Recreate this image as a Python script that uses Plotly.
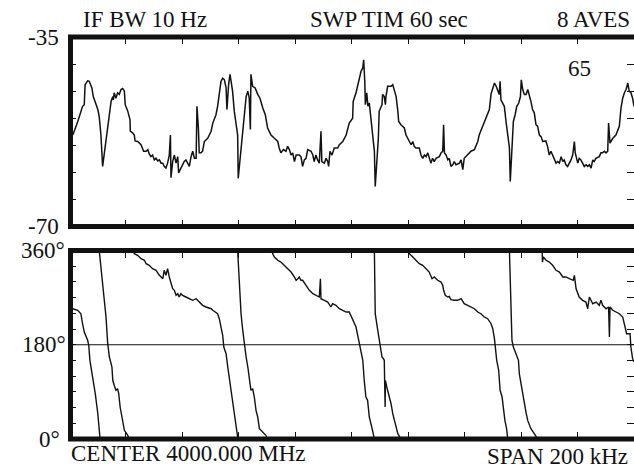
import plotly.graph_objects as go

# ---------------- data ----------------
# magnitude trace (frequency offset from centre in kHz, level in dB)
mag_khz = [-100.0,
    -98.5, -96.9, -95.2, -94.6, -94.3, -93.4, -92.8, -92.6, -91.9, -91.4,
    -90.7, -89.8, -89.3, -88.7, -88.1, -87.1, -86.3, -85.7, -85.1, -84.5,
    -84.3, -84.0, -83.4, -82.8, -82.2, -81.6, -81.0, -80.4, -80.1, -79.2,
    -78.4, -78.3, -77.5, -76.9, -76.6, -75.7, -74.5, -73.6, -72.7, -72.1,
    -71.6, -71.0, -70.4, -69.8, -69.2, -68.6, -68.0, -67.4, -66.8, -66.3,
    -65.7, -65.1, -64.5, -64.1, -63.9, -63.3, -62.7, -62.1, -61.5, -61.2,
    -60.4, -59.8, -59.2, -58.6, -58.0, -57.4, -56.8, -56.2, -55.6, -55.0,
    -54.7, -54.2, -53.9, -53.3, -52.7, -52.1, -50.9, -49.7, -49.1, -48.0,
    -47.4, -46.8, -46.2, -45.6, -45.0, -44.4, -44.1, -43.5, -43.0, -42.7,
    -42.1, -41.5, -40.9, -40.3, -40.1, -39.5, -38.8, -37.9, -37.3, -36.7,
    -36.2, -35.8, -35.6, -35.0, -34.1, -33.2, -32.4, -31.4, -30.5, -29.7,
    -28.5, -27.3, -26.1, -25.6, -25.0, -24.1, -23.2, -22.6, -22.0, -21.4,
    -20.8, -20.2, -19.6, -18.5, -17.9, -17.3, -16.7, -16.1, -15.5, -14.3,
    -13.7, -13.2, -12.6, -12.0, -11.4, -10.8, -10.5, -9.6, -9.0, -8.4,
    -8.1, -7.6, -6.9, -6.1, -4.9, -4.3, -3.1, -1.9, -0.8, 0.4,
    0.6, 1.6, 2.6, 3.4, 4.0, 4.3, 4.7, 4.9, 5.4, 5.8,
    6.3, 6.9, 7.5, 8.1, 8.4, 9.0, 9.5, 9.8, 10.8, 11.0,
    11.6, 12.0, 12.2, 12.8, 14.0, 14.6, 15.2, 15.8, 16.4, 16.7,
    17.5, 18.7, 19.3, 20.5, 21.1, 21.7, 22.2, 22.8, 24.0, 24.6,
    25.2, 25.8, 26.4, 27.0, 27.5, 28.1, 28.7, 29.3, 29.9, 31.1,
    31.7, 32.3, 32.6, 32.9, 33.5, 34.1, 34.6, 35.2, 35.8, 36.4,
    37.0, 38.2, 38.8, 39.4, 39.9, 41.1, 42.3, 43.5, 44.7, 45.2,
    46.4, 47.6, 48.8, 49.4, 50.0, 50.6, 51.2, 51.8, 52.3, 52.6,
    52.9, 53.5, 54.1, 54.7, 55.3, 55.9, 56.2, 56.8, 57.3, 57.9,
    58.5, 59.2, 59.8, 60.1, 60.6, 61.2, 61.8, 62.4, 62.9, 63.5,
    64.1, 64.7, 65.3, 65.9, 66.5, 67.1, 67.7, 68.2, 68.8, 69.4,
    70.0, 70.6, 71.2, 71.8, 72.4, 73.0, 73.6, 74.2, 74.8, 75.3,
    75.9, 76.5, 77.1, 77.7, 78.3, 78.9, 79.2, 79.5, 80.1, 80.6,
    81.2, 81.8, 82.4, 83.0, 83.6, 84.2, 84.8, 85.4, 85.9, 86.5,
    87.7, 88.3, 88.9, 89.5, 90.1, 90.7, 91.0, 91.5, 92.5, 93.6,
    94.8, 95.4, 96.0, 96.6, 97.2, 97.8, 98.3, 98.9, 99.5, 100.0]

mag_db = [-54.0,
    -52.9, -50.6, -47.8, -47.5, -43.8, -43.1, -43.2, -43.5, -44.4, -46.0,
    -46.9, -48.4, -49.7, -53.1, -58.9, -54.9, -51.5, -48.7, -46.9, -46.0,
    -46.6, -45.3, -46.3, -45.3, -45.6, -44.7, -44.5, -45.0, -47.5, -48.7,
    -50.3, -52.4, -52.7, -53.1, -54.2, -54.3, -54.9, -56.1, -56.1, -55.8,
    -56.6, -57.1, -56.8, -57.7, -57.4, -57.9, -57.7, -58.3, -58.3, -58.9,
    -59.2, -58.3, -56.8, -53.1, -61.0, -58.0, -56.8, -58.3, -57.1, -60.1,
    -59.2, -58.6, -58.0, -57.7, -58.3, -58.9, -57.1, -56.1, -57.4, -57.4,
    -47.8, -51.8, -56.4, -56.4, -56.1, -54.3, -53.7, -52.4, -50.9, -49.4,
    -47.8, -45.0, -43.2, -42.6, -42.9, -44.4, -48.4, -43.8, -41.9, -42.9,
    -45.0, -48.7, -50.9, -53.1, -61.1, -58.0, -54.3, -49.7, -46.0, -45.0,
    -46.3, -52.1, -41.9, -44.1, -44.4, -45.6, -46.3, -48.1, -49.4, -51.8,
    -53.1, -53.7, -54.3, -55.5, -56.4, -55.8, -56.1, -55.2, -55.8, -56.8,
    -56.4, -58.0, -56.8, -56.8, -57.1, -58.9, -57.7, -57.4, -55.8, -56.1,
    -56.8, -58.0, -56.8, -57.7, -58.3, -52.4, -58.0, -58.3, -57.4, -58.0,
    -58.9, -56.1, -56.8, -55.5, -55.5, -54.9, -54.3, -53.1, -50.9, -50.0,
    -46.9, -45.3, -43.2, -41.3, -40.7, -39.2, -43.2, -47.5, -45.3, -47.8,
    -47.2, -50.0, -52.4, -56.1, -62.6, -58.6, -53.7, -48.7, -47.5, -45.6,
    -46.0, -47.5, -46.0, -44.1, -44.1, -43.8, -44.7, -46.0, -48.7, -50.6,
    -51.2, -51.8, -53.1, -54.3, -54.9, -54.3, -55.2, -55.5, -55.5, -56.8,
    -57.4, -56.8, -57.1, -56.4, -57.4, -58.3, -57.4, -58.0, -57.4, -57.1,
    -56.4, -56.1, -51.2, -56.4, -56.8, -57.7, -57.4, -58.9, -58.6, -58.0,
    -58.6, -58.3, -57.7, -59.5, -57.4, -56.8, -56.1, -55.8, -54.3, -53.1,
    -51.5, -50.0, -48.4, -45.5, -44.4, -43.5, -44.1, -45.0, -45.6, -43.2,
    -46.6, -47.2, -47.8, -50.6, -53.1, -55.5, -61.7, -55.5, -50.6, -49.4,
    -47.8, -47.2, -46.0, -42.9, -44.7, -45.6, -45.6, -44.7, -45.6, -46.9,
    -48.4, -49.0, -51.2, -51.5, -53.1, -53.4, -54.3, -54.3, -54.2, -55.2,
    -56.8, -56.1, -56.8, -57.4, -58.3, -58.0, -58.3, -57.1, -58.0, -57.7,
    -58.6, -58.9, -58.3, -57.7, -56.8, -54.3, -56.4, -57.1, -58.3, -57.4,
    -57.7, -58.3, -58.9, -58.6, -58.9, -58.6, -59.2, -57.7, -58.0, -57.4,
    -57.1, -56.4, -56.4, -56.1, -56.4, -56.1, -50.9, -54.6, -53.7, -53.1,
    -51.5, -48.1, -46.3, -45.3, -44.7, -43.5, -45.0, -45.3, -46.3, -47.8]

# phase trace, one list per wrap (0..360 degrees)
phase_khz = [
    [-100.0, -98.7, -96.9, -95.8, -95.2, -94.6, -93.4, -93.0, -92.6, -91.6, -90.7, -89.8, -89.3, -89.0],
    [-89.3, -88.7, -88.1, -87.5, -86.9, -86.3, -85.7, -84.8, -84.5, -84.0, -83.4, -82.8, -82.4, -81.9,
     -81.0, -80.4, -79.2, -78.7],
    [-77.2, -76.9, -75.7, -74.5, -73.3, -72.7, -71.6, -70.4, -69.2, -68.0, -66.8, -66.3, -65.7, -65.1,
     -64.5, -63.9, -63.3, -62.7, -62.1, -61.5, -61.0, -60.4, -59.8, -58.6, -57.4, -56.2, -55.0, -53.9,
     -52.7, -51.5, -49.7, -49.1, -47.4, -46.8, -46.2, -45.6, -45.2, -44.4, -43.8, -43.3, -42.7, -42.1,
     -41.5, -40.9, -40.3, -40.2],
    [-40.3, -39.7, -39.1, -38.5, -37.9, -37.3, -36.7, -36.2, -35.6, -35.0, -34.4, -33.8, -33.2, -32.6,
     -31.4, -30.3, -29.7],
    [-28.1, -27.9, -27.3, -26.1, -25.0, -23.8, -22.6, -21.4, -20.2, -19.6, -19.0, -18.5, -17.9, -17.3,
     -16.1, -14.9, -13.7, -12.6, -11.4, -11.0, -10.8, -9.6, -8.4, -7.3, -6.7, -5.5, -4.3, -3.1, -1.9,
     -0.8, 0.4, 1.6, 2.2, 2.8, 3.4, 4.0, 4.5, 5.1, 5.7, 6.3, 7.3, 8.1],
    [8.1, 8.4, 9.3, 9.8, 10.4, 10.8, 11.3, 11.6, 11.9, 12.0, 12.5, 13.4, 14.0, 14.6, 15.2, 15.8, 16.4, 17.5],
    [20.4, 20.5, 21.7, 22.8, 24.0, 25.2, 26.4, 27.5, 28.5, 29.3, 30.5, 31.7, 32.3, 32.6, 33.2, 34.1,
     34.6, 35.2, 36.4, 37.6, 38.8, 39.9, 41.1, 42.3, 43.5, 44.7, 45.8, 47.0, 48.2, 49.4, 50.0, 50.6,
     50.9, 51.4, 52.1, 52.6, 53.3, 53.7, 54.3, 54.9, 55.3],
    [55.9, 56.5, 56.8, 57.3, 58.2, 59.1, 59.4, 60.0, 60.6, 61.2, 61.8, 62.4, 63.5, 64.7, 65.9],
    [67.5, 67.6, 67.9, 68.9, 70.0, 71.2, 72.4, 73.6, 74.8, 75.9, 77.1, 78.5, 78.9, 79.5, 80.6, 81.8,
     83.0, 83.6, 84.2, 84.8, 85.4, 86.6, 87.7, 88.3, 88.9, 90.1, 91.0, 91.3, 91.5, 92.5, 93.6, 94.8,
     96.0, 96.9, 97.4, 98.6, 98.9, 99.5, 100.0],
]
phase_deg = [
    [249, 248.8, 245.8, 239.3, 220.2, 204.3, 188.5, 178.9, 150.3, 118.4, 86.5, 48.3, 7.1, 0],
    [360, 328.5, 303.1, 271.2, 233.0, 182.0, 156.6, 137.5, 112.1, 102.6, 93.0, 96.1, 86.5, 61.1,
     35.7, 16.6, 7.1, 0],
    [360, 353.9, 350.8, 344.3, 341.3, 334.8, 331.7, 325.2, 322.2, 312.6, 306.1, 322.2, 312.6, 325.2,
     309.4, 296.6, 287.0, 284.0, 274.4, 277.5, 271.2, 277.5, 274.4, 271.2, 267.9, 264.9, 267.9, 261.6,
     255.3, 252.1, 248.8, 245.8, 239.3, 229.7, 213.9, 198.0, 175.7, 162.9, 137.5, 118.4, 99.3, 73.9,
     48.3, 22.9, 3.8, 0],
    [360, 284.0, 239.3, 207.6, 175.7, 156.6, 137.5, 118.4, 93.0, 96.1, 80.2, 54.8, 42.0, 19.7,
     13.4, 7.1, 0],
    [360, 353.9, 347.6, 341.3, 338.0, 331.7, 325.2, 318.9, 309.4, 303.1, 306.1, 309.4, 303.1, 303.1,
     293.5, 284.0, 277.5, 274.4, 271.2, 306.1, 267.9, 264.9, 261.6, 252.1, 258.4, 255.3, 248.8, 245.8,
     242.5, 242.5, 229.7, 213.9, 198.0, 182.0, 169.4, 150.3, 112.1, 80.2, 73.9, 42.0, 19.7, 0],
    [360, 239.3, 207.6, 191.6, 175.7, 156.6, 153.4, 150.3, 61.1, 112.1, 99.3, 80.2, 67.4, 48.3, 35.7,
     22.9, 10.1, 0],
    [360, 353.9, 347.6, 341.3, 334.8, 331.7, 325.2, 318.9, 306.1, 309.4, 303.1, 299.8, 293.5, 284.0,
     274.4, 271.2, 272.5, 266.0, 264.9, 264.9, 267.9, 258.4, 255.3, 252.1, 248.8, 242.5, 239.3, 233.0,
     229.7, 220.2, 210.7, 191.6, 175.7, 150.3, 131.2, 93.0, 80.2, 61.1, 35.7, 19.7, 0],
    [360, 271.2, 188.5, 175.7, 162.9, 150.3, 124.7, 105.0, 88.0, 65.0, 50.0, 35.0, 19.7, 10.1, 0],
    [360, 338.0, 347.6, 341.3, 338.0, 331.7, 322.2, 318.9, 309.4, 309.4, 306.1, 303.1, 312.6, 287.0,
     271.2, 264.9, 261.6, 248.8, 271.2, 264.9, 258.4, 261.6, 255.3, 264.9, 255.3, 248.8, 252.1, 194.8,
     252.1, 245.8, 242.5, 239.3, 233.0, 213.9, 201.1, 201.1, 175.7, 153.4, 147.1],
]

freq_ticks = [-100, -80, -60, -40, -20, 0, 20, 40, 60, 80, 100]
db_ticks = [-70, -65, -60, -55, -50, -45, -40, -35]
db_label_vals = [-35, -70]
db_labels = ["-35", "-70"]
deg_ticks = [0, 30, 60, 90, 120, 150, 180, 210, 240, 270, 300, 330, 360]
deg_label_vals = [360, 180, 0]
deg_labels = ["360°", "180°", "0°"]
ref_deg = 180
header_texts = ["IF BW 10 Hz", "SWP TIM 60 sec", "8 AVES"]
marker_text = "65"
footer_texts = ["CENTER 4000.000 MHz", "SPAN 200 kHz"]

# ---------------- layout geometry (pixels) ----------------
W, H = 634, 468
ML, MR, MT, MB = 69, 0, 37, 29
PW, PH = W - ML - MR, H - MT - MB


def fx(px):
    return (px - ML) / PW


def fy(py):
    return (H - MB - py) / PH


INK = "#111111"
FONT = dict(family="Liberation Serif, Times New Roman, serif", size=23, color=INK)

fig = go.Figure()
fig.add_trace(go.Scatter(x=mag_khz, y=mag_db, mode="lines",
                         line=dict(color=INK, width=1.5), xaxis="x", yaxis="y",
                         hoverinfo="skip", showlegend=False))

ph_x, ph_y = [], []
for xs, ys in zip(phase_khz, phase_deg):
    ph_x += xs + [None]
    ph_y += ys + [None]
fig.add_trace(go.Scatter(x=ph_x, y=ph_y, mode="lines", connectgaps=False,
                         line=dict(color=INK, width=1.4), xaxis="x2", yaxis="y2",
                         hoverinfo="skip", showlegend=False))

common = dict(showgrid=False, zeroline=False, showline=True, linecolor=INK, linewidth=1,
              mirror="ticks", ticks="inside", ticklen=7, tickwidth=1, tickcolor=INK,
              showticklabels=False, fixedrange=True)

top_dom = [fy(226.5), 1.0]
bot_dom = [0.0, fy(250.5)]

fig.update_layout(
    width=W, height=H,
    margin=dict(l=ML, r=MR, t=MT, b=MB, pad=0),
    paper_bgcolor="white", plot_bgcolor="white",
    font=FONT, showlegend=False, hovermode=False,
    xaxis=dict(domain=[0, 1], range=[-100, 100], tickmode="array", tickvals=freq_ticks,
               anchor="y", **common),
    yaxis=dict(domain=top_dom, range=[-70, -35], tickmode="array", tickvals=db_ticks,
               anchor="x", **common),
    xaxis2=dict(domain=[0, 1], range=[-100, 100], tickmode="array", tickvals=freq_ticks,
                anchor="y2", **common),
    yaxis2=dict(domain=bot_dom, range=[0, 360], tickmode="array", tickvals=deg_ticks,
                anchor="x2", **common),
)

shapes = []
for dom in (top_dom, bot_dom):
    shapes.append(dict(type="rect", xref="paper", yref="paper",
                       x0=fx(70.5), x1=1.03, y0=dom[0], y1=dom[1],
                       line=dict(color=INK, width=5), fillcolor="rgba(0,0,0,0)", layer="above"))
shapes.append(dict(type="line", xref="x2", yref="y2", x0=-100, x1=100, y0=ref_deg, y1=ref_deg,
                   line=dict(color=INK, width=1.2)))
fig.update_layout(shapes=shapes)

ann = []
for v, t in zip(db_label_vals, db_labels):
    ann.append(dict(text=t, xref="paper", yref="y", x=fx(61), y=v,
                    xanchor="right", yanchor="middle", showarrow=False, font=FONT))
deg_right = {360: 67, 180: 68, 0: 62}
for v, t in zip(deg_label_vals, deg_labels):
    ann.append(dict(text=t, xref="paper", yref="y2", x=fx(deg_right[v]), y=v,
                    xanchor="right", yanchor="middle", showarrow=False, font=FONT))
ann.append(dict(text=header_texts[0], xref="paper", yref="paper", x=fx(81), y=fy(19),
                xanchor="left", yanchor="middle", showarrow=False, font=FONT))
ann.append(dict(text=header_texts[1], xref="paper", yref="paper", x=fx(308), y=fy(19),
                xanchor="left", yanchor="middle", showarrow=False, font=FONT))
ann.append(dict(text=header_texts[2], xref="paper", yref="paper", x=fx(632), y=fy(19),
                xanchor="right", yanchor="middle", showarrow=False, font=FONT))
ann.append(dict(text=marker_text, xref="paper", yref="paper", x=fx(579), y=fy(69),
                xanchor="center", yanchor="middle", showarrow=False, font=FONT))
ann.append(dict(text=footer_texts[0], xref="paper", yref="paper", x=fx(69), y=fy(453),
                xanchor="left", yanchor="middle", showarrow=False, font=FONT))
ann.append(dict(text=footer_texts[1], xref="paper", yref="paper", x=fx(630), y=fy(456),
                xanchor="right", yanchor="middle", showarrow=False, font=FONT))
fig.update_layout(annotations=ann)

fig.write_html("out.html", config={"displayModeBar": False, "staticPlot": True},
               post_script="document.body.style.margin='0';document.body.style.overflow='hidden';")
